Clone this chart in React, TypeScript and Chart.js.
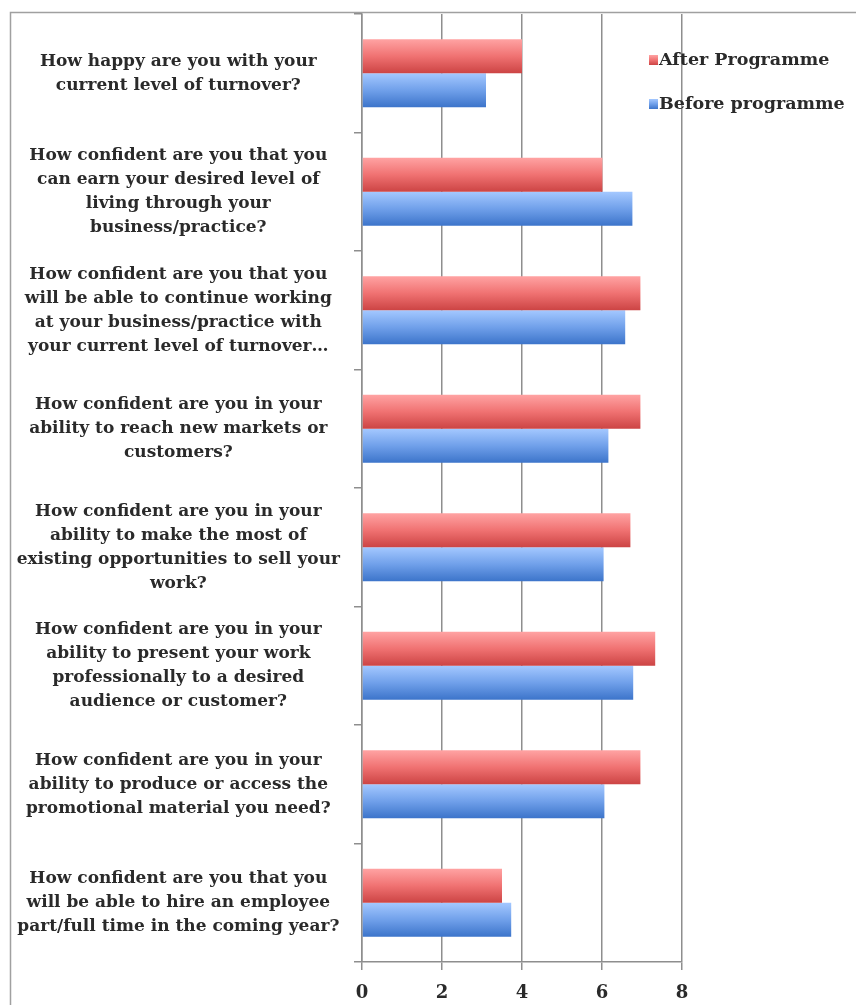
import React, { useEffect, useRef } from "react";
import { Chart, registerables } from "chart.js";

Chart.register(...registerables);

const categories: string[][] = [
  ["How happy are you with your", "current level of turnover?"],
  ["How confident are you that you", "can earn your desired level of", "living through your", "business/practice?"],
  ["How confident are you that you", "will be able to continue working", "at your business/practice with", "your current level of turnover…"],
  ["How confident are you in your", "ability to reach new markets or", "customers?"],
  ["How confident are you in your", "ability to make the most of", "existing opportunities to sell your", "work?"],
  ["How confident are you in your", "ability to present your work", "professionally to a desired", "audience or customer?"],
  ["How confident are you in your", "ability to produce or access the", "promotional material you need?"],
  ["How confident are you that you", "will be able to hire an employee", "part/full time in the coming year?"],
];

const afterProgramme = [4.0, 6.01, 6.96, 6.96, 6.71, 7.33, 6.96, 3.5];
const beforeProgramme = [3.1, 6.76, 6.58, 6.16, 6.04, 6.78, 6.06, 3.73];
const seriesNames = ["After Programme", "Before programme"];
const xMin = 0;
const xMax = 8;
const xStep = 2;

const CAT_PCT = 0.575;
const FONT = "'DejaVu Serif', 'Liberation Serif', serif";

const redStops = ["#ffa3a3", "#f07272", "#cc4444"];
const blueStops = ["#a4c8ff", "#70a0ea", "#3c74ca"];

function makeGrad(ctx: CanvasRenderingContext2D, top: number, bottom: number, stops: string[]) {
  const g = ctx.createLinearGradient(0, top, 0, bottom);
  g.addColorStop(0, stops[0]);
  g.addColorStop(0.5, stops[1]);
  g.addColorStop(1, stops[2]);
  return g;
}

export default function App() {
  const ref = useRef<HTMLCanvasElement | null>(null);

  useEffect(() => {
    if (!ref.current) return;
    const barColor = (stops: string[], dsIndex: number) => (c: any) => {
      const chart = c.chart;
      const ys = chart.scales && chart.scales.y;
      if (!ys || c.dataIndex === undefined || !chart.chartArea) return stops[1];
      const center = ys.getPixelForValue(c.dataIndex);
      const catH = ys.height / categories.length;
      const half = (catH * CAT_PCT) / 2;
      const top = dsIndex === 0 ? center - half : center;
      const bottom = dsIndex === 0 ? center : center + half;
      return makeGrad(chart.ctx, top, bottom, stops);
    };

    const framePlugin = {
      id: "frame",
      beforeDraw(chart: any) {
        const ctx = chart.ctx as CanvasRenderingContext2D;
        ctx.save();
        ctx.fillStyle = "#ffffff";
        ctx.fillRect(0, 0, chart.width, chart.height);
        ctx.strokeStyle = "#a0a0a0";
        ctx.lineWidth = 1.5;
        ctx.beginPath();
        ctx.moveTo(10.5, chart.height);
        ctx.lineTo(10.5, 12.5);
        ctx.lineTo(chart.width, 12.5);
        ctx.stroke();
        ctx.restore();
      },
      afterDraw(chart: any) {
        const ctx = chart.ctx as CanvasRenderingContext2D;
        ctx.save();
        const items = [
          { text: seriesNames[0], stops: redStops, y: 60 },
          { text: seriesNames[1], stops: blueStops, y: 104 },
        ];
        ctx.font = `bold 17.5px ${FONT}`;
        ctx.textBaseline = "middle";
        for (const it of items) {
          const bx = 649;
          const by = it.y - 5;
          ctx.fillStyle = makeGrad(ctx, by, by + 10, it.stops);
          ctx.fillRect(bx, by, 9, 10);
          ctx.fillStyle = "#2a2a2a";
          ctx.fillText(it.text, 659, it.y);
        }
        ctx.restore();
      },
    };

    const chart = new Chart(ref.current, {
      type: "bar",
      data: {
        labels: categories,
        datasets: [
          {
            label: seriesNames[0],
            data: afterProgramme,
            backgroundColor: barColor(redStops, 0),
            borderWidth: 0,
            categoryPercentage: CAT_PCT,
            barPercentage: 1.0,
          },
          {
            label: seriesNames[1],
            data: beforeProgramme,
            backgroundColor: barColor(blueStops, 1),
            borderWidth: 0,
            categoryPercentage: CAT_PCT,
            barPercentage: 1.0,
          },
        ],
      },
      options: {
        indexAxis: "y",
        animation: false,
        responsive: false,
        maintainAspectRatio: false,
        layout: { padding: { left: 12, top: 14, right: 174, bottom: 0 } },
        plugins: {
          legend: { display: false },
          tooltip: { enabled: false },
        },
        scales: {
          x: {
            min: xMin,
            max: xMax,
            ticks: {
              stepSize: xStep,
              color: "#2a2a2a",
              font: { family: FONT, size: 18, weight: "bold" },
              padding: 13,
            },
            grid: {
              color: "#8e8e8e",
              lineWidth: 1.5,
              tickLength: 8,
              drawTicks: true,
            },
            border: { display: true, color: "#8e8e8e", width: 1.5 },
            afterFit: (s: any) => {
              s.height = 43;
              s.paddingLeft = 0;
              s.paddingRight = 0;
            },
          },
          y: {
            ticks: {
              color: "#2a2a2a",
              font: { family: FONT, size: 17, weight: "bold", lineHeight: 1.41 },
              crossAlign: "center",
              padding: 14,
              autoSkip: false,
            },
            grid: {
              offset: true,
              drawOnChartArea: false,
              color: "#8e8e8e",
              lineWidth: 1.5,
              tickLength: 8,
            },
            border: { display: true, color: "#8e8e8e", width: 1.5 },
            afterFit: (s: any) => {
              s.width = 350;
              s.paddingTop = 0;
              s.paddingBottom = 0;
            },
          },
        },
      },
      plugins: [framePlugin],
    });
    return () => chart.destroy();
  }, []);

  return (
    <div style={{ position: "absolute", left: 0, top: 0, width: 856, height: 1005, background: "#fff" }}>
      <canvas ref={ref} width={856} height={1005} style={{ display: "block", width: 856, height: 1005 }} />
    </div>
  );
}
